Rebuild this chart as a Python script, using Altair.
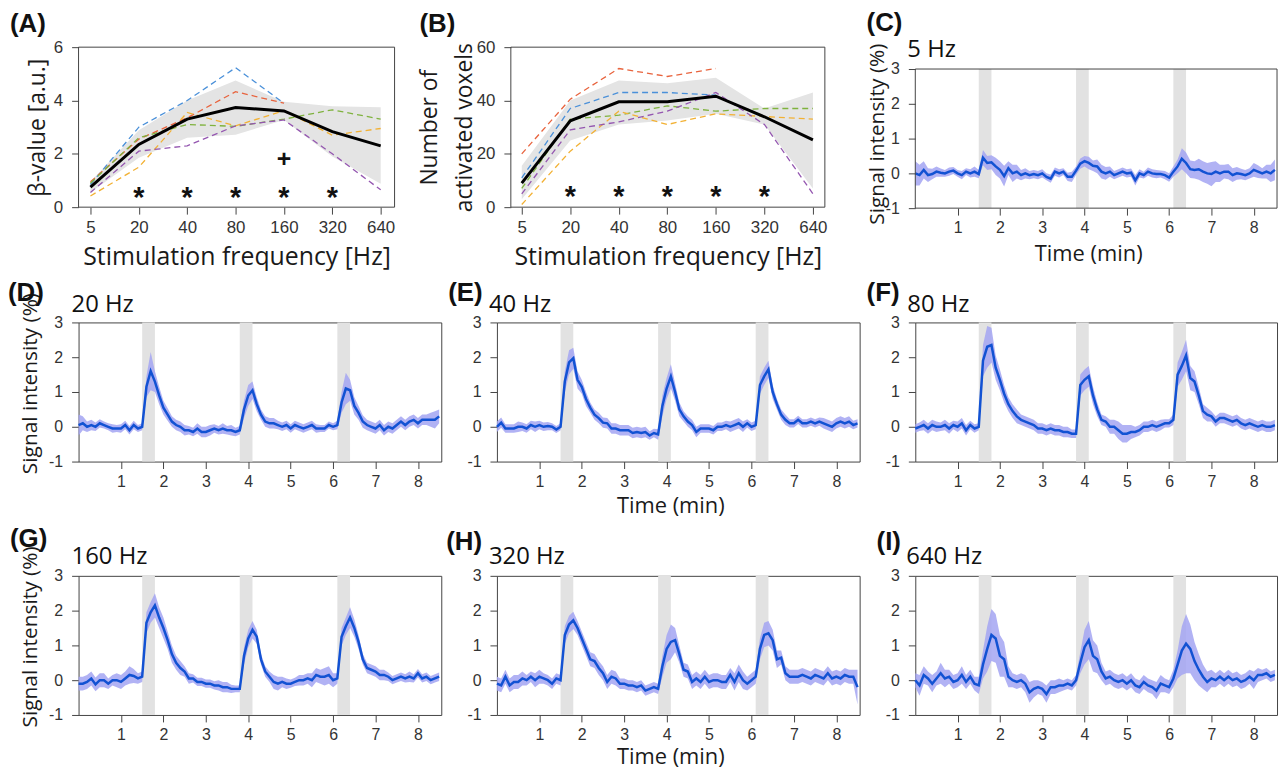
import json
import altair as alt
import pandas as pd

# ---------------- Panels A / B : frequency tuning ----------------
FREQ_LABELS = ["5", "20", "40", "80", "160", "320", "640"]
FREQ_INDEX = [0, 1, 2, 3, 4, 5, 6]
STAR_INDEX = [1, 2, 3, 4, 5]

BETA_MEAN = [0.75, 2.35, 3.30, 3.74, 3.61, 2.83, 2.30]
BETA_LOW = [0.55, 1.85, 2.60, 2.72, 3.27, 1.90, 0.88]
BETA_HIGH = [0.95, 2.88, 4.00, 4.75, 3.95, 3.78, 3.75]
BETA_BLUE = [0.85, 3.00, 4.00, 5.23, 3.90]
BETA_RED = [0.95, 2.55, 3.35, 4.33, 3.90]
BETA_GREEN = [0.90, 2.60, 3.10, 3.03, 3.30, 3.65, 3.30]
BETA_YELLOW = [0.42, 1.50, 3.55, 3.05, 3.62, 2.70, 2.95]
BETA_PURPLE = [0.55, 2.10, 2.30, 3.05, 3.27, 2.00, 0.65]
BETA_STAR_Y = [0.6, 0.6, 0.6, 0.6, 0.6]
BETA_PLUS_INDEX = [4]
BETA_PLUS_Y = [1.83]

VOX_MEAN = [9.0, 32.4, 39.5, 39.5, 41.6, 33.9, 25.2]
VOX_LOW = [3.0, 25.0, 31.0, 32.5, 35.0, 31.0, 7.0]
VOX_HIGH = [15.5, 40.0, 47.5, 46.5, 48.5, 37.0, 43.0]
VOX_BLUE = [11.0, 37.0, 43.0, 43.0, 42.0]
VOX_RED = [20.0, 40.5, 52.0, 49.0, 52.0]
VOX_GREEN = [7.0, 33.0, 34.5, 38.0, 36.0, 37.0, 37.0]
VOX_YELLOW = [1.0, 21.0, 36.0, 31.0, 35.0, 34.0, 33.0]
VOX_PURPLE = [5.0, 29.0, 32.0, 36.0, 43.0, 31.0, 5.0]
VOX_STAR_Y = [6.5, 6.5, 6.5, 6.5, 6.5]

SUBJ_NAMES = ["blue", "red", "green", "yellow", "purple"]
SUBJ_COLORS = ["#4a90d9", "#e8633d", "#7fb23e", "#f2b134", "#9456b0"]

# ---------------- Panels C-I : time courses ----------------
TIME = [0.0, 0.1, 0.2, 0.3, 0.4, 0.5, 0.6, 0.7, 0.8, 0.9,
        1.0, 1.1, 1.2, 1.3, 1.4, 1.5, 1.6, 1.7, 1.8, 1.9,
        2.0, 2.1, 2.2, 2.3, 2.4, 2.5, 2.6, 2.7, 2.8, 2.9,
        3.0, 3.1, 3.2, 3.3, 3.4, 3.5, 3.6, 3.7, 3.8, 3.9,
        4.0, 4.1, 4.2, 4.3, 4.4, 4.5, 4.6, 4.7, 4.8, 4.9,
        5.0, 5.1, 5.2, 5.3, 5.4, 5.5, 5.6, 5.7, 5.8, 5.9,
        6.0, 6.1, 6.2, 6.3, 6.4, 6.5, 6.6, 6.7, 6.8, 6.9,
        7.0, 7.1, 7.2, 7.3, 7.4, 7.5, 7.6, 7.7, 7.8, 7.9,
        8.0, 8.1, 8.2, 8.3, 8.4, 8.5]
STIM_START = [1.5, 3.8, 6.1]
STIM_END = [1.8, 4.1, 6.4]
TIME_TICKS = [1, 2, 3, 4, 5, 6, 7, 8]
SIGNAL_TICKS = [-1, 0, 1, 2, 3]

SI_5_MEAN = [0.0, -0.05, 0.1, -0.05, -0.02, 0.05, 0.02, 0.0, 0.05, 0.08,
             0.0, -0.05, 0.05, 0.0, 0.05, -0.02, 0.45, 0.3, 0.32, 0.2,
             0.1, -0.08, 0.15, 0.0, 0.05, -0.05, 0.0, -0.05, -0.02, -0.05,
             0.0, -0.1, -0.15, 0.05, 0.0, 0.05, -0.1, -0.1, 0.08, 0.28,
             0.35, 0.3, 0.22, 0.2, 0.05, 0.0, 0.05, -0.05, 0.0, 0.05,
             0.0, 0.02, -0.2, 0.0, -0.05, 0.05, 0.0, -0.02, -0.02, -0.05,
             -0.12, 0.05, 0.2, 0.42, 0.3, 0.12, 0.1, 0.12, 0.05, 0.0,
             -0.02, 0.05, 0.0, 0.05, 0.05, -0.05, 0.0, -0.02, -0.05, 0.0,
             0.1, 0.05, 0.0, 0.05, 0.0, 0.1]
SI_5_SPREAD = [0.35, 0.3, 0.25, 0.2, 0.15, 0.15, 0.12, 0.1, 0.12, 0.1,
               0.1, 0.12, 0.1, 0.12, 0.15, 0.12, 0.22, 0.2, 0.2, 0.25,
               0.25, 0.3, 0.2, 0.25, 0.2, 0.15, 0.15, 0.12, 0.12, 0.12,
               0.12, 0.1, 0.12, 0.12, 0.12, 0.1, 0.12, 0.15, 0.12, 0.15,
               0.15, 0.18, 0.15, 0.2, 0.2, 0.18, 0.15, 0.12, 0.12, 0.12,
               0.12, 0.12, 0.15, 0.12, 0.1, 0.12, 0.12, 0.12, 0.1, 0.12,
               0.12, 0.15, 0.2, 0.3, 0.3, 0.25, 0.25, 0.3, 0.3, 0.3,
               0.35, 0.3, 0.25, 0.2, 0.22, 0.2, 0.18, 0.15, 0.15, 0.15,
               0.2, 0.18, 0.15, 0.2, 0.25, 0.3]

SI_20_MEAN = [0.05, 0.1, 0.0, 0.05, 0.0, 0.1, 0.05, 0.0, -0.05, -0.05,
              -0.05, 0.05, -0.1, 0.05, -0.05, 0.0, 1.15, 1.6, 1.3, 0.9,
              0.55, 0.35, 0.15, 0.05, 0.0, -0.1, -0.1, -0.15, -0.05, -0.15,
              -0.15, -0.1, -0.05, -0.1, -0.05, -0.1, -0.1, -0.15, -0.1, 0.5,
              0.9, 1.05, 0.65, 0.35, 0.15, 0.1, 0.1, 0.05, 0.0, 0.05,
              -0.05, 0.05, 0.0, -0.05, 0.0, 0.05, -0.05, -0.05, -0.05, 0.05,
              0.0, 0.05, 0.7, 1.1, 1.05, 0.6, 0.4, 0.15, 0.05, 0.0,
              -0.05, 0.05, -0.1, 0.0, -0.05, 0.05, 0.15, 0.05, 0.15, 0.2,
              0.1, 0.2, 0.2, 0.2, 0.2, 0.3]
SI_20_SPREAD = [0.3, 0.2, 0.15, 0.15, 0.12, 0.12, 0.1, 0.1, 0.12, 0.1,
                0.12, 0.12, 0.12, 0.12, 0.1, 0.1, 0.3, 0.55, 0.3, 0.25,
                0.2, 0.18, 0.15, 0.15, 0.15, 0.15, 0.12, 0.12, 0.15, 0.15,
                0.15, 0.15, 0.12, 0.12, 0.15, 0.12, 0.15, 0.12, 0.12, 0.25,
                0.3, 0.25, 0.2, 0.15, 0.15, 0.15, 0.15, 0.12, 0.12, 0.12,
                0.12, 0.12, 0.12, 0.12, 0.12, 0.12, 0.12, 0.1, 0.1, 0.1,
                0.1, 0.12, 0.3, 0.45, 0.3, 0.25, 0.2, 0.18, 0.15, 0.15,
                0.15, 0.15, 0.15, 0.15, 0.15, 0.15, 0.15, 0.15, 0.15, 0.15,
                0.15, 0.15, 0.15, 0.2, 0.25, 0.2]

SI_40_MEAN = [0.0, 0.12, -0.05, -0.05, -0.05, 0.0, 0.0, -0.05, 0.05, 0.0,
              0.05, 0.0, 0.02, 0.0, -0.08, 0.0, 1.3, 1.85, 1.97, 1.35,
              1.15, 0.8, 0.55, 0.35, 0.25, 0.12, 0.1, -0.05, -0.05, -0.1,
              -0.1, -0.1, -0.18, -0.15, -0.18, -0.15, -0.25, -0.18, -0.22, 0.6,
              1.1, 1.45, 1.0, 0.5, 0.3, 0.15, 0.05, -0.15, -0.05, -0.05,
              -0.05, -0.1, 0.0, 0.0, 0.05, 0.0, 0.05, 0.1, 0.0, 0.1,
              0.0, 0.05, 1.2, 1.45, 1.65, 1.0, 0.65, 0.35, 0.2, 0.1,
              0.1, 0.2, 0.1, 0.1, 0.15, 0.1, 0.15, 0.1, 0.05, 0.0,
              0.1, 0.15, 0.1, 0.15, 0.05, 0.1]
SI_40_SPREAD = [0.15, 0.15, 0.12, 0.12, 0.12, 0.15, 0.12, 0.12, 0.12, 0.15,
                0.12, 0.12, 0.12, 0.1, 0.1, 0.1, 0.3, 0.35, 0.3, 0.25,
                0.2, 0.2, 0.15, 0.15, 0.15, 0.15, 0.15, 0.15, 0.15, 0.15,
                0.15, 0.15, 0.15, 0.15, 0.15, 0.15, 0.12, 0.12, 0.15, 0.3,
                0.3, 0.35, 0.25, 0.2, 0.15, 0.15, 0.15, 0.15, 0.12, 0.12,
                0.12, 0.12, 0.12, 0.12, 0.12, 0.15, 0.15, 0.15, 0.15, 0.12,
                0.12, 0.12, 0.25, 0.25, 0.25, 0.2, 0.15, 0.15, 0.15, 0.12,
                0.12, 0.12, 0.12, 0.12, 0.12, 0.12, 0.12, 0.15, 0.15, 0.15,
                0.15, 0.15, 0.15, 0.15, 0.12, 0.12]

SI_80_MEAN = [-0.05, 0.0, 0.05, -0.05, 0.05, 0.0, 0.0, 0.05, -0.05, 0.05,
              0.0, 0.1, -0.1, 0.05, -0.05, 0.0, 1.9, 2.3, 2.35, 1.7,
              1.35, 0.95, 0.65, 0.45, 0.3, 0.2, 0.15, 0.1, 0.05, -0.05,
              -0.05, -0.1, -0.05, -0.1, -0.1, -0.15, -0.15, -0.2, -0.2, 1.2,
              1.35, 1.45, 0.9, 0.5, 0.2, 0.15, 0.0, 0.0, -0.1, -0.2,
              -0.2, -0.15, -0.15, -0.1, 0.0, 0.0, 0.05, 0.0, 0.05, 0.1,
              0.1, 0.2, 1.5, 1.75, 2.05, 1.4, 1.3, 0.9, 0.45, 0.35,
              0.3, 0.15, 0.25, 0.25, 0.2, 0.15, 0.2, 0.1, 0.05, 0.1,
              0.05, 0.0, 0.05, 0.0, 0.0, 0.05]
SI_80_SPREAD = [0.12, 0.12, 0.15, 0.15, 0.15, 0.15, 0.12, 0.15, 0.15, 0.12,
                0.15, 0.15, 0.15, 0.12, 0.12, 0.1, 0.45, 0.6, 0.5, 0.35,
                0.3, 0.25, 0.2, 0.2, 0.2, 0.15, 0.15, 0.15, 0.15, 0.15,
                0.15, 0.15, 0.15, 0.15, 0.15, 0.15, 0.15, 0.12, 0.12, 0.3,
                0.3, 0.3, 0.25, 0.2, 0.15, 0.15, 0.2, 0.2, 0.25, 0.25,
                0.25, 0.2, 0.15, 0.15, 0.15, 0.15, 0.15, 0.15, 0.15, 0.12,
                0.12, 0.15, 0.35, 0.4, 0.45, 0.35, 0.3, 0.25, 0.2, 0.2,
                0.15, 0.15, 0.15, 0.15, 0.15, 0.15, 0.15, 0.15, 0.15, 0.15,
                0.15, 0.15, 0.15, 0.15, 0.15, 0.15]

SI_160_MEAN = [-0.1, -0.1, -0.05, 0.05, -0.12, 0.0, 0.0, -0.1, 0.0, 0.0,
               -0.05, 0.05, 0.15, 0.12, 0.05, 0.1, 1.65, 1.95, 2.15, 1.8,
               1.5, 1.15, 0.75, 0.5, 0.35, 0.25, 0.05, 0.05, -0.05, -0.05,
               -0.1, -0.1, -0.15, -0.15, -0.2, -0.2, -0.25, -0.25, -0.25, 0.7,
               1.2, 1.45, 1.25, 0.6, 0.25, 0.1, -0.05, -0.1, -0.05, -0.1,
               -0.1, -0.05, 0.0, 0.0, 0.05, 0.0, 0.15, 0.1, 0.1, 0.15,
               0.0, 0.05, 1.25, 1.55, 1.8, 1.5, 1.1, 0.6, 0.35, 0.3,
               0.25, 0.15, 0.15, 0.1, 0.0, 0.05, 0.1, 0.05, 0.1, 0.05,
               0.2, 0.05, 0.1, 0.0, 0.05, 0.1]
SI_160_SPREAD = [0.2, 0.2, 0.2, 0.2, 0.2, 0.2, 0.2, 0.15, 0.15, 0.2,
                 0.2, 0.2, 0.25, 0.2, 0.15, 0.15, 0.3, 0.3, 0.35, 0.3,
                 0.3, 0.25, 0.25, 0.2, 0.2, 0.15, 0.15, 0.12, 0.12, 0.12,
                 0.12, 0.12, 0.12, 0.15, 0.15, 0.15, 0.12, 0.1, 0.1, 0.25,
                 0.25, 0.25, 0.2, 0.15, 0.15, 0.15, 0.2, 0.2, 0.15, 0.15,
                 0.12, 0.12, 0.15, 0.15, 0.15, 0.2, 0.2, 0.2, 0.25, 0.25,
                 0.2, 0.15, 0.25, 0.25, 0.3, 0.25, 0.2, 0.15, 0.15, 0.15,
                 0.15, 0.15, 0.15, 0.12, 0.12, 0.12, 0.12, 0.12, 0.15, 0.12,
                 0.12, 0.12, 0.12, 0.12, 0.12, 0.12]

SI_320_MEAN = [-0.1, -0.15, 0.1, -0.15, -0.05, -0.05, 0.05, 0.0, 0.1, 0.0,
               0.1, 0.05, 0.0, -0.1, 0.05, 0.0, 1.3, 1.6, 1.72, 1.5,
               1.2, 0.9, 0.6, 0.55, 0.35, 0.2, -0.05, 0.1, 0.05, -0.1,
               -0.1, -0.15, -0.15, -0.2, -0.15, -0.3, -0.25, -0.2, -0.25, 0.4,
               0.9, 1.1, 1.15, 0.75, 0.3, 0.25, -0.05, 0.05, -0.05, 0.1,
               -0.05, 0.0, 0.0, -0.05, -0.05, 0.15, -0.05, 0.2, 0.0, -0.1,
               0.0, 0.1, 0.9, 1.3, 1.35, 1.15, 0.6, 0.65, 0.2, 0.1,
               0.1, 0.1, 0.15, 0.1, 0.05, 0.15, 0.1, 0.05, 0.2, 0.05,
               0.1, 0.05, 0.15, 0.1, 0.1, -0.2]
SI_320_SPREAD = [0.2, 0.2, 0.2, 0.2, 0.2, 0.2, 0.2, 0.15, 0.15, 0.2,
                 0.2, 0.15, 0.15, 0.15, 0.15, 0.15, 0.25, 0.25, 0.25, 0.2,
                 0.2, 0.2, 0.2, 0.2, 0.2, 0.2, 0.2, 0.2, 0.2, 0.15,
                 0.15, 0.15, 0.15, 0.15, 0.15, 0.15, 0.15, 0.15, 0.15, 0.3,
                 0.4, 0.5, 0.35, 0.25, 0.2, 0.2, 0.2, 0.2, 0.2, 0.2,
                 0.2, 0.2, 0.2, 0.2, 0.2, 0.2, 0.25, 0.25, 0.25, 0.2,
                 0.2, 0.2, 0.3, 0.35, 0.35, 0.3, 0.25, 0.2, 0.2, 0.2,
                 0.2, 0.2, 0.2, 0.2, 0.2, 0.2, 0.2, 0.2, 0.2, 0.2,
                 0.2, 0.2, 0.2, 0.2, 0.2, 0.5]

SI_640_MEAN = [0.0, -0.15, 0.15, 0.05, -0.1, 0.05, 0.2, 0.05, 0.1, -0.05,
               0.0, 0.15, -0.05, 0.1, -0.1, -0.15, 0.45, 0.9, 1.3, 1.2,
               0.7, 0.6, 0.1, 0.0, -0.05, 0.0, -0.1, -0.35, -0.25, -0.2,
               -0.25, -0.4, -0.2, -0.2, -0.15, -0.15, -0.1, -0.15, 0.0, 0.5,
               0.95, 1.15, 0.7, 0.6, 0.25, 0.05, 0.1, 0.0, -0.05, 0.0,
               -0.1, 0.0, -0.15, -0.2, -0.05, -0.15, -0.2, -0.3, -0.1, -0.15,
               -0.2, 0.05, 0.45, 0.85, 1.05, 0.9, 0.55, 0.3, 0.1, -0.05,
               0.05, 0.0, 0.1, 0.0, 0.1, 0.0, 0.05, -0.05, 0.0, 0.1,
               0.0, 0.15, 0.15, 0.2, 0.1, 0.15]
SI_640_SPREAD = [0.2, 0.3, 0.25, 0.2, 0.25, 0.2, 0.3, 0.25, 0.2, 0.2,
                 0.2, 0.25, 0.2, 0.2, 0.2, 0.25, 0.4, 0.65, 0.75, 0.7,
                 0.6, 0.5, 0.3, 0.2, 0.2, 0.2, 0.25, 0.3, 0.25, 0.2,
                 0.2, 0.25, 0.2, 0.2, 0.2, 0.15, 0.15, 0.15, 0.15, 0.3,
                 0.5, 0.55, 0.45, 0.4, 0.25, 0.2, 0.2, 0.2, 0.2, 0.2,
                 0.2, 0.2, 0.2, 0.2, 0.2, 0.2, 0.2, 0.25, 0.25, 0.2,
                 0.2, 0.25, 0.4, 0.7, 0.85, 0.7, 0.55, 0.45, 0.35, 0.3,
                 0.25, 0.2, 0.2, 0.2, 0.2, 0.2, 0.2, 0.2, 0.2, 0.2,
                 0.25, 0.2, 0.15, 0.15, 0.15, 0.15]

# ---------------- styling ----------------
FRAME = "#444444"
LABEL_FONT = "Liberation Sans"
TITLE_FONT = "Open Sans"
LINE_BLUE = "#1252d3"
BAND_BLUE = "#a3a4f2"
STIM_GRAY = "#e2e2e2"
SD_GRAY = "#e4e4e4"

FREQ_LABEL_EXPR = json.dumps(FREQ_LABELS) + "[datum.value]"


def label_layer(text, x, y, bold, size, font):
    return alt.Chart(pd.DataFrame({"s": [text]})).mark_text(
        align="left", baseline="middle" if bold else "alphabetic",
        font=font, fontWeight="bold" if bold else "normal",
        fontSize=size, color="#111111",
    ).encode(text="s:N", x=alt.value(x), y=alt.value(y))


def freq_panel(letter, lx, ly, mean, low, high, subjects, ydom, yvals,
               ytitle, ytitle_x, star_y, xdom, x0, frame_w,
               plus_idx=None, plus_y=None, title_lh=None):
    xs = alt.Scale(domain=xdom, range=[x0, x0 + frame_w], nice=False, zero=False)
    ys = alt.Scale(domain=ydom, nice=False, zero=False)
    xaxis = alt.Axis(values=FREQ_INDEX, labelExpr=FREQ_LABEL_EXPR,
                     title="Stimulation frequency [Hz]", titleFontSize=25,
                     titleY=50, titleX=x0 + frame_w / 2, titleBaseline="middle",
                     labelFontSize=17, labelPadding=5, tickSize=7,
                     labelOverlap=False)
    ykw = dict(values=yvals, title=ytitle, titleFontSize=23, titleX=ytitle_x,
               titleBaseline="middle", labelFontSize=17, labelPadding=9,
               tickSize=7, labelOverlap=False)
    if x0:
        ykw["offset"] = -x0
    if title_lh:
        ykw["titleLineHeight"] = title_lh
    yaxis = alt.Axis(**ykw)

    mdf = pd.DataFrame({"idx": FREQ_INDEX, "mean": mean, "low": low, "high": high})
    rows = []
    for name, vals in subjects:
        for i, v in enumerate(vals):
            rows.append({"subj": name, "idx": FREQ_INDEX[i], "val": v})
    sdf = pd.DataFrame(rows)

    band = alt.Chart(mdf).mark_area(color=SD_GRAY).encode(
        x=alt.X("idx:Q", scale=xs, axis=xaxis),
        y=alt.Y("low:Q", scale=ys, axis=yaxis), y2="high:Q")
    subj = alt.Chart(sdf).mark_line(strokeDash=[6, 4], strokeWidth=1.3).encode(
        x=alt.X("idx:Q", scale=xs, axis=xaxis),
        y=alt.Y("val:Q", scale=ys, axis=yaxis),
        color=alt.Color("subj:N", scale=alt.Scale(domain=SUBJ_NAMES, range=SUBJ_COLORS),
                        legend=None),
        detail="subj:N")
    mline = alt.Chart(mdf).mark_line(color="black", strokeWidth=3).encode(
        x=alt.X("idx:Q", scale=xs, axis=xaxis),
        y=alt.Y("mean:Q", scale=ys, axis=yaxis))
    stars = alt.Chart(pd.DataFrame({"idx": STAR_INDEX, "y": star_y})).mark_text(
        text="*", fontSize=29, fontWeight="bold", font=LABEL_FONT,
        baseline="alphabetic", dy=16, color="#111111").encode(
        x=alt.X("idx:Q", scale=xs, axis=xaxis),
        y=alt.Y("y:Q", scale=ys, axis=yaxis))
    layers = [band, subj, mline, stars]
    if plus_idx:
        plus = alt.Chart(pd.DataFrame({"idx": plus_idx, "y": plus_y})).mark_text(
            text="+", fontSize=25, fontWeight="bold", font=LABEL_FONT,
            baseline="alphabetic", dy=9, color="#111111").encode(
            x=alt.X("idx:Q", scale=xs, axis=xaxis),
            y=alt.Y("y:Q", scale=ys, axis=yaxis))
        layers.append(plus)
    frame = alt.Chart(pd.DataFrame({"a": [0]})).mark_rect(
        fill="transparent", stroke=FRAME, strokeWidth=1).encode(
        x=alt.XDatum(xdom[0], scale=xs, axis=xaxis), x2=alt.X2Datum(xdom[1]),
        y=alt.YDatum(ydom[0], scale=ys, axis=yaxis), y2=alt.Y2Datum(ydom[1]))
    layers.append(frame)
    layers.append(label_layer(letter, lx, ly, True, 26, LABEL_FONT))
    return alt.layer(*layers).properties(
        width=x0 + frame_w, height=161,
        view=alt.ViewBackground(stroke="transparent"))


def time_panel(letter, lx, ly, freq, fx, fy, mean, spread, width,
               ytitle=None, xtitle=None, xtitle_y=44, height=140, yrange=None,
               ytitle_x=-48, ytitle_y=61, frame=False):
    xs = alt.Scale(domain=[0, 8.55], nice=False, zero=False)
    if yrange:
        ys = alt.Scale(domain=[-1, 3], range=yrange, nice=False, zero=False)
    else:
        ys = alt.Scale(domain=[-1, 3], nice=False, zero=False)
    xkw = dict(values=TIME_TICKS, labelFontSize=16, labelPadding=5, tickSize=7,
               labelOverlap=False, title=xtitle)
    if xtitle:
        xkw.update(titleFontSize=22, titleY=xtitle_y, titleX=width / 2 - 8,
                   titleBaseline="middle")
    xaxis = alt.Axis(**xkw)
    ykw = dict(values=SIGNAL_TICKS, labelExpr="replace(datum.label, '\u2212', '-')",
               labelFontSize=16, labelPadding=9, tickSize=7,
               labelOverlap=False, title=ytitle)
    if ytitle:
        ykw.update(titleFontSize=21, titleX=ytitle_x, titleY=ytitle_y,
                   titleBaseline="middle")
    yaxis = alt.Axis(**ykw)

    df = pd.DataFrame({"t": TIME, "m": mean})
    df["lo"] = [m - s for m, s in zip(mean, spread)]
    df["hi"] = [m + s for m, s in zip(mean, spread)]
    sdf = pd.DataFrame({"s": STIM_START, "e": STIM_END})

    stim = alt.Chart(sdf).mark_rect(color=STIM_GRAY).encode(
        x=alt.X("s:Q", scale=xs, axis=xaxis), x2="e:Q",
        y=alt.YDatum(-1, scale=ys, axis=yaxis), y2=alt.Y2Datum(3))
    band = alt.Chart(df).mark_area(color=BAND_BLUE, opacity=0.85).encode(
        x=alt.X("t:Q", scale=xs, axis=xaxis),
        y=alt.Y("lo:Q", scale=ys, axis=yaxis), y2="hi:Q")
    line = alt.Chart(df).mark_line(color=LINE_BLUE, strokeWidth=2.5).encode(
        x=alt.X("t:Q", scale=xs, axis=xaxis),
        y=alt.Y("m:Q", scale=ys, axis=yaxis))
    layers = [stim, band, line]
    if frame:
        layers.append(alt.Chart(pd.DataFrame({"a": [0]})).mark_rect(
            fill="transparent", stroke=FRAME, strokeWidth=1).encode(
            x=alt.XDatum(0, scale=xs, axis=xaxis), x2=alt.X2Datum(8.55),
            y=alt.YDatum(-1, scale=ys, axis=yaxis), y2=alt.Y2Datum(3)))
    layers.append(label_layer(letter, lx, ly, True, 26, LABEL_FONT))
    layers.append(label_layer(freq, fx, fy, False, 24, TITLE_FONT))
    props = dict(width=width, height=height)
    if frame:
        props["view"] = alt.ViewBackground(stroke="transparent")
    return alt.layer(*layers).properties(**props)


panel_a = freq_panel(
    "(A)", -69, -23, BETA_MEAN, BETA_LOW, BETA_HIGH,
    [("blue", BETA_BLUE), ("red", BETA_RED), ("green", BETA_GREEN),
     ("yellow", BETA_YELLOW), ("purple", BETA_PURPLE)],
    [0, 6], [0, 2, 4, 6], "β-value [a.u.]", -41, BETA_STAR_Y,
    [-0.246, 6.287], 0, 318, plus_idx=BETA_PLUS_INDEX, plus_y=BETA_PLUS_Y)

panel_b = freq_panel(
    "(B)", -78, -23, VOX_MEAN, VOX_LOW, VOX_HIGH,
    [("blue", VOX_BLUE), ("red", VOX_RED), ("green", VOX_GREEN),
     ("yellow", VOX_YELLOW), ("purple", VOX_PURPLE)],
    [0, 60], [0, 20, 40, 60], ["Number of", "activated voxels"], -82, VOX_STAR_Y,
    [-0.225, 6.246], 14, 316, title_lh=35)

panel_c = time_panel("(C)", -49, -24, "5 Hz", -8, 10, SI_5_MEAN, SI_5_SPREAD, 364,
                     ytitle="Signal intensity (%)", xtitle="Time (min)", xtitle_y=46,
                     height=162, yrange=[162, 22], ytitle_x=-38, ytitle_y=87,
                     frame=True)
panel_d = time_panel("(D)", -71, -30, "20 Hz", -7, -11, SI_20_MEAN, SI_20_SPREAD, 365,
                     ytitle="Signal intensity (%)")
panel_e = time_panel("(E)", -49, -30, "40 Hz", -8, -11, SI_40_MEAN, SI_40_SPREAD, 365,
                     xtitle="Time (min)", xtitle_y=44)
panel_f = time_panel("(F)", -49, -30, "80 Hz", -8, -11, SI_80_MEAN, SI_80_SPREAD, 364)
panel_g = time_panel("(G)", -69, -37, "160 Hz", -7, -12, SI_160_MEAN, SI_160_SPREAD, 365,
                     ytitle="Signal intensity (%)")
panel_h = time_panel("(H)", -51, -34, "320 Hz", -8, -12, SI_320_MEAN, SI_320_SPREAD, 365,
                     xtitle="Time (min)", xtitle_y=42)
panel_i = time_panel("(I)", -39, -34, "640 Hz", -9, -12, SI_640_MEAN, SI_640_SPREAD, 364)

chart = alt.concat(
    panel_a, panel_b, panel_c, panel_d, panel_e, panel_f, panel_g, panel_h, panel_i,
    columns=3, spacing={"row": 115, "column": 56}, bounds="flush",
    align={"row": "each", "column": "each"},
).properties(
    autosize=alt.AutoSizeParams(type="none"),
    padding={"left": 71, "top": 37, "right": 1209, "bottom": 730},
).configure_view(
    stroke=FRAME, strokeWidth=1
).configure_axis(
    grid=False, domain=False, tickColor=FRAME, tickWidth=1,
    labelColor="#333333", labelFont=LABEL_FONT, labelOverlap=False,
    titleFont=TITLE_FONT, titleFontWeight="normal", titleColor="#1a1a1a",
)

chart.save("out.html", embed_options={"renderer": "svg", "actions": False})
